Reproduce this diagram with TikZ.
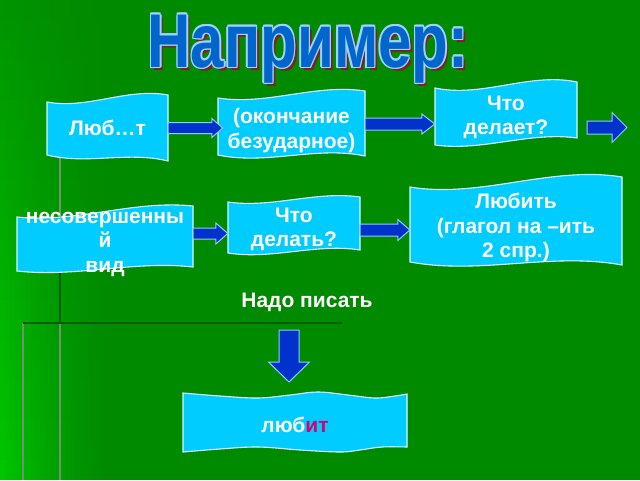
\documentclass[tikz,border=0pt]{standalone}
\usepackage{fontspec}
\usepackage{graphicx}
\setmainfont{Liberation Sans}
\usetikzlibrary{calc}
\definecolor{bg}{RGB}{0,138,0}
\definecolor{glow}{RGB}{0,200,0}
\definecolor{cyanfill}{RGB}{0,204,255}
\definecolor{arrowblue}{RGB}{0,51,204}
\definecolor{arrowedge}{RGB}{150,200,255}
\definecolor{titleblue}{RGB}{0,102,204}
\definecolor{titleedge}{RGB}{160,210,255}
\definecolor{titleshadow}{RGB}{128,32,32}
\definecolor{ending}{RGB}{214,0,120}
\definecolor{grayline}{RGB}{110,150,110}
\definecolor{darkline}{RGB}{0,95,0}
\tikzset{
  wavefill/.style={fill=cyanfill, draw=white!85!cyanfill, line width=1.1pt},
  barrow/.style={fill=arrowblue, draw=arrowedge, line width=1pt, line join=miter},
  boxtext/.style={text=white, font=\fontsize{21}{24.5}\selectfont\bfseries, align=center, inner sep=0pt},
  titletext/.style={anchor=base, inner sep=0pt, font=\fontsize{60}{60}\selectfont\bfseries},
}
% wave banner: x0, x1, top-left y, top-right y, top amp, bottom-left y, bottom-right y, bottom amp
\newcommand\wavebox[8]{%
  \path[wavefill] (#1,#3) .. controls ($(#1,#3)!1/3!(#2,#4)+(0,#5)$) and ($(#1,#3)!2/3!(#2,#4)-(0,#5)$) .. (#2,#4)
    -- (#2,#7) .. controls ($(#1,#6)!2/3!(#2,#7)-(0,#8)$) and ($(#1,#6)!1/3!(#2,#7)+(0,#8)$) .. (#1,#6) -- cycle;}
% horizontal block arrow: start, end, y, shaft half, head half, head length
\newcommand\harrow[6]{%
  \path[barrow] let \p1=#1, \p2=#2, \p3=(0,#3) in
    (\x1,\y3-#4pt) -- (\x2-#6pt,\y3-#4pt) -- (\x2-#6pt,\y3-#5pt) -- (\x2,\y3)
    -- (\x2-#6pt,\y3+#5pt) -- (\x2-#6pt,\y3+#4pt) -- (\x1,\y3+#4pt) -- cycle;}
% vertical (downward) block arrow: start, end, shaft half, head half, head length
\newcommand\varrow[5]{%
  \path[barrow] let \p1=#1, \p2=#2 in
    (\x1-#3pt,\y1) -- (\x1+#3pt,\y1) -- (\x1+#3pt,\y2+#5pt) -- (\x1+#4pt,\y2+#5pt) -- (\x1,\y2)
    -- (\x1-#4pt,\y2+#5pt) -- (\x1-#3pt,\y2+#5pt) -- cycle;}
\begin{document}
\begin{tikzpicture}[x=1pt,y=-1pt]
\useasboundingbox (0,0) rectangle (640,480);
\fill[bg] (0,0) rectangle (640,480);
% left glow, built from small cells
\foreach \i in {0,...,21} {
  \foreach \j in {0,...,23} {
    \pgfmathsetmacro\pp{100*(1-(\i+0.5)/22)^1.4*(0.15+0.85*((\j+0.5)/24))}
    \fill[glow!\pp!bg] (\i*5,\j*20) rectangle (\i*5+5.4,\j*20+20.4);
  }}
% decorative template lines
\draw[grayline, line width=2pt] (60,140) -- (60,480);
\draw[darkline, line width=2pt] (60,272) -- (60,322);
\draw[grayline, line width=2pt] (23,323) -- (23,480);
\draw[darkline, line width=2.5pt] (23,323) -- (342,323);

% title
\node[titletext, text=titleshadow] (tshadow) at (311,70) {\scalebox{1}[1.27]{Например:}};
\foreach \dx/\dy [count=\i] in {1.5/0,-1.5/0,0/1.5,0/-1.5,1.1/1.1,-1.1/1.1,1.1/-1.1,-1.1/-1.1}
  \node[titletext, text=titleedge] (tedge\i) at (308+\dx,67+\dy) {\scalebox{1}[1.27]{Например:}};
\node[titletext, text=titleblue] (title) at (308,67) {\scalebox{1}[1.27]{Например:}};

% banners
\wavebox{47}{168}{102}{95}{10}{155}{161}{8}
\wavebox{218}{365}{98}{91}{10}{155}{156}{10}
\wavebox{435}{577}{88}{82}{12}{145}{138}{9}
\wavebox{17}{193}{217}{206}{10}{271}{267}{8}
\wavebox{228}{360}{202}{197}{8}{253}{250}{8}
\wavebox{410}{622}{187}{177}{15}{262}{265}{12}
\path[wavefill] plot[smooth, tension=0.6] coordinates {(183,393) (220,396) (258,398) (290,395) (318,392) (348,395) (375,398) (395,396) (407,394)}
  -- plot[smooth, tension=0.6] coordinates {(407,447) (382,447) (360,450) (340,452) (300,450) (258,447) (220,449) (183,452)} -- cycle;

% texts
\node[boxtext, minimum width=121pt] (b1) at (107.5,128) {Люб…т};
\node[boxtext, minimum width=147pt] (b2) at (291.5,130.5) {(окончание\\безударное)};
\node[boxtext, minimum width=142pt] (b3) at (506,117.5) {Что\\делает?};
\node[boxtext, minimum width=176pt] (b4) at (105,244) {несовершенны\\й\\вид};
\node[boxtext, minimum width=132pt] (b5) at (294,229.5) {Что\\делать?};
\node[boxtext, minimum width=212pt] (b6) at (516,227.5) {Любить\\(глагол на –ить\\2 спр.)};
\node[boxtext] (lbl) at (307,302) {Надо писать};
\node[boxtext, minimum width=224pt] (b7) at (295,425) {люб\textcolor{ending}{ит}};

% arrows
\harrow{(b1.east)}{($(b2.west)+(5,0)$)}{128}{5.5}{9.5}{11}
\harrow{(b2.east)}{(b3.west)}{124}{6}{10}{13}
\coordinate (a3end) at (627,127.5);
\harrow{($(b3.east)+(10,0)$)}{(a3end)}{127.5}{6.5}{15}{15}
\harrow{(b4.east)}{(b5.west)}{233.5}{5.5}{10.5}{12}
\harrow{(b5.east)}{(b6.west)}{230}{6}{10.5}{12}
\coordinate (dstart) at (289,330);
\coordinate (dend) at (289,382);
\varrow{(dstart)}{(dend)}{10}{20.5}{20}
\end{tikzpicture}
\end{document}
